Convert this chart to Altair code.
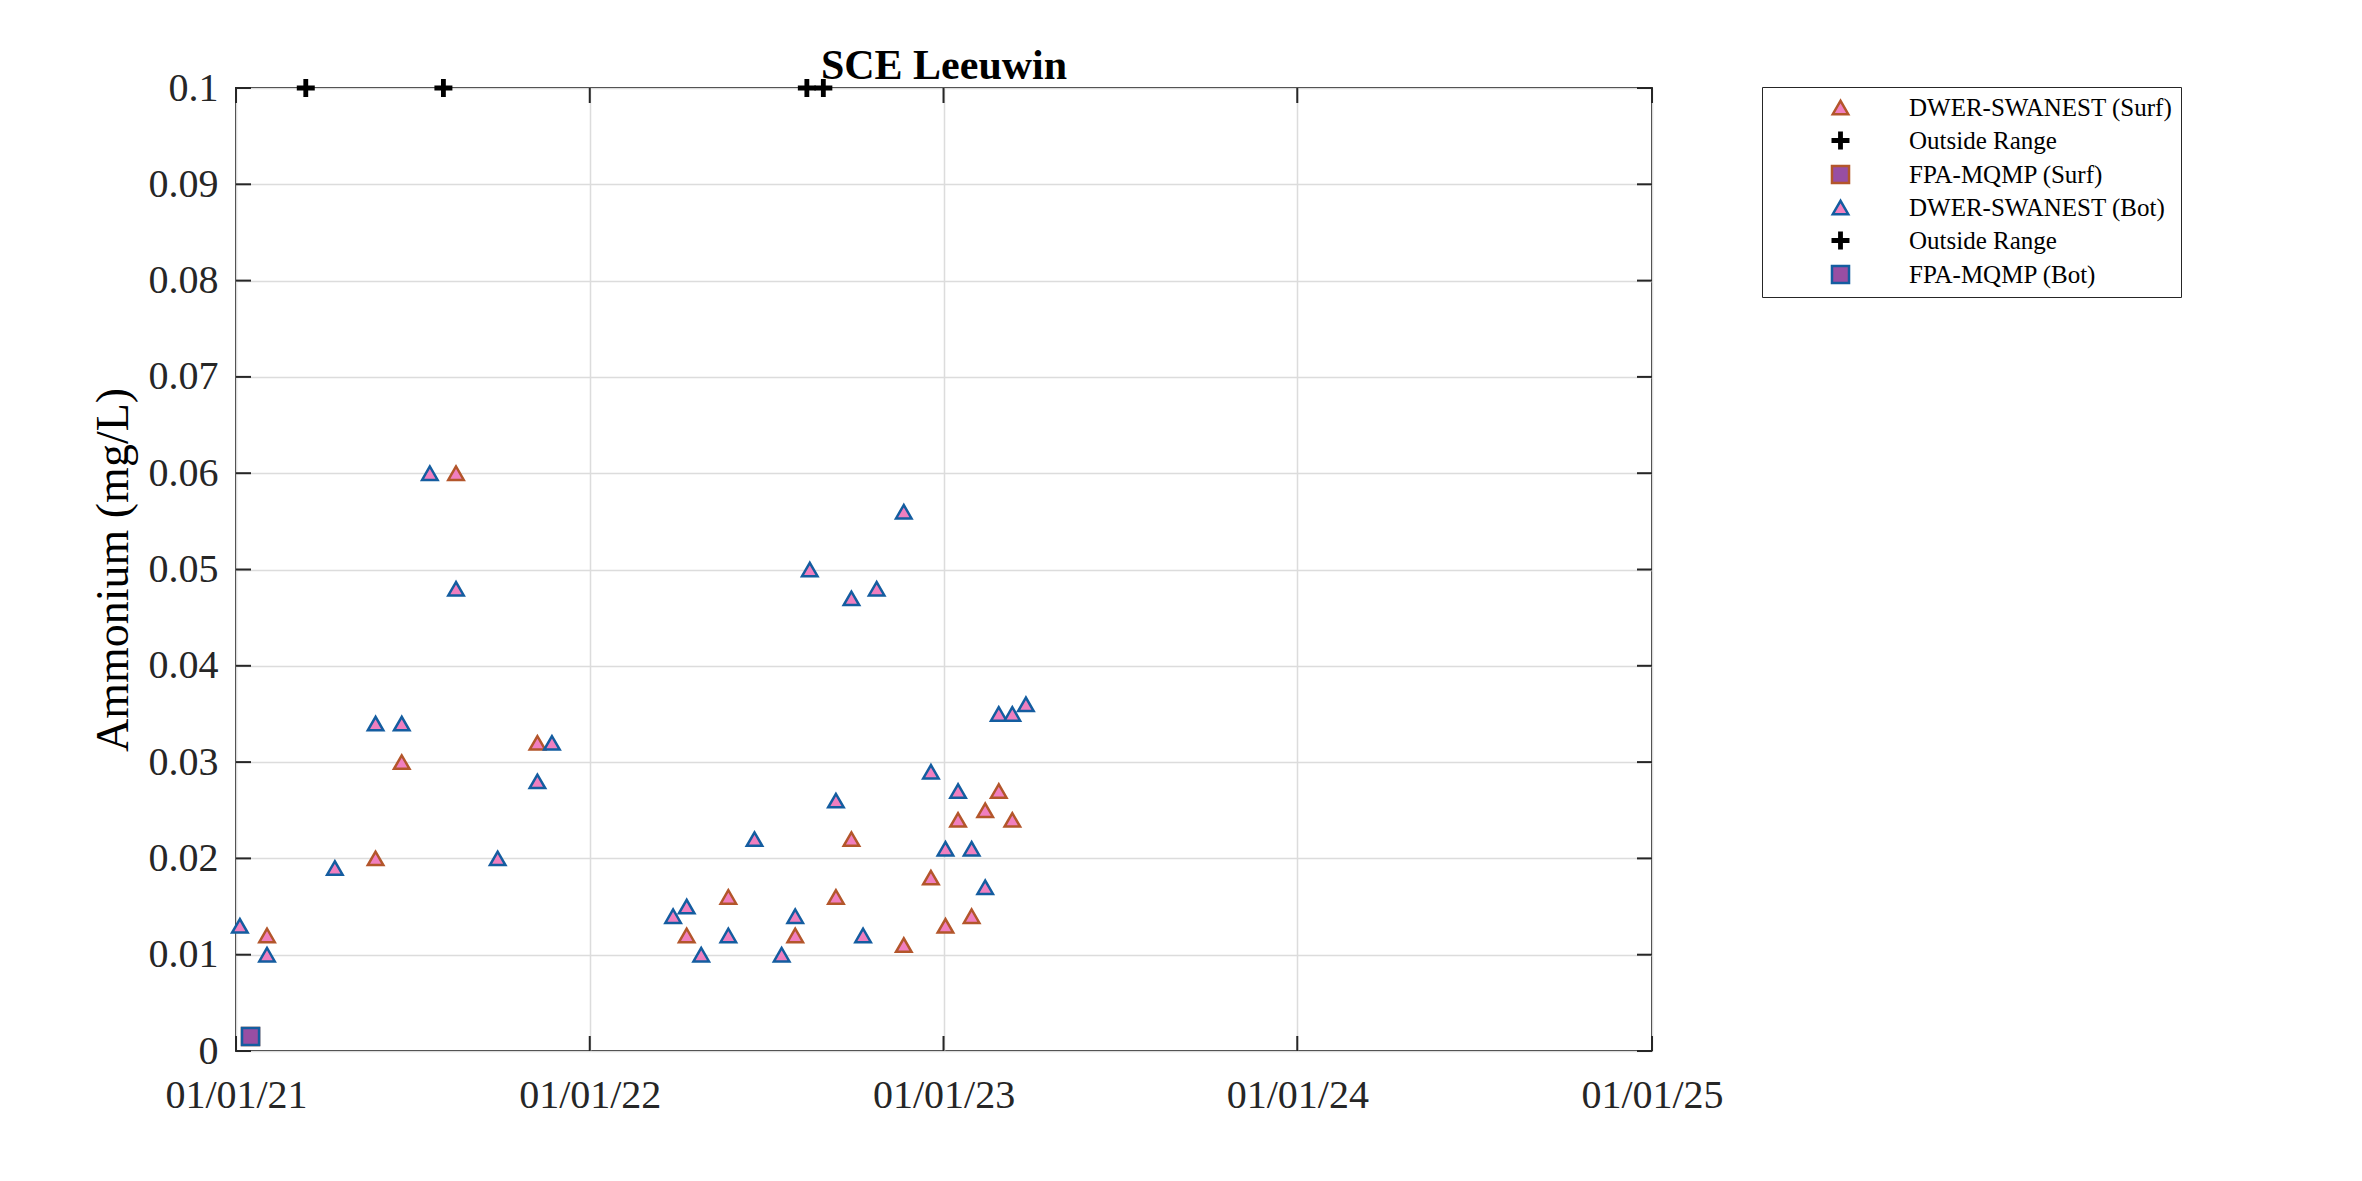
import altair as alt
import pandas as pd

# DWER-SWANEST surface samples
surf_dates = ["2021-02-02", "2021-05-25", "2021-06-21", "2021-08-16", "2021-11-08",
              "2022-04-11", "2022-05-24", "2022-08-01", "2022-09-12", "2022-09-28",
              "2022-11-21", "2022-12-19", "2023-01-03", "2023-01-16", "2023-01-30",
              "2023-02-13", "2023-02-27", "2023-03-13"]
surf_vals = [0.012, 0.020, 0.030, 0.060, 0.032,
             0.012, 0.016, 0.012, 0.016, 0.022,
             0.011, 0.018, 0.013, 0.024, 0.014,
             0.025, 0.027, 0.024]

# DWER-SWANEST bottom samples
bot_dates = ["2021-01-05", "2021-02-02", "2021-04-13", "2021-05-25", "2021-06-21",
             "2021-07-20", "2021-08-16", "2021-09-28", "2021-11-08", "2021-11-23",
             "2022-03-28", "2022-04-11", "2022-04-26", "2022-05-24", "2022-06-20",
             "2022-07-18", "2022-08-01", "2022-08-16", "2022-09-12", "2022-09-28",
             "2022-10-10", "2022-10-24", "2022-11-21", "2022-12-19", "2023-01-03",
             "2023-01-16", "2023-01-30", "2023-02-13", "2023-02-27", "2023-03-13",
             "2023-03-27"]
bot_vals = [0.013, 0.010, 0.019, 0.034, 0.034,
            0.060, 0.048, 0.020, 0.028, 0.032,
            0.014, 0.015, 0.010, 0.012, 0.022,
            0.010, 0.014, 0.050, 0.026, 0.047,
            0.012, 0.048, 0.056, 0.029, 0.021,
            0.027, 0.021, 0.017, 0.035, 0.035,
            0.036]

# values above the axis limit, drawn on the top edge
surf_out_dates = ["2021-03-14", "2022-08-13"]
bot_out_dates = ["2021-08-03", "2022-08-30"]
out_val = 0.1

# FPA-MQMP samples
fpa_dates = ["2021-01-16"]
fpa_surf_vals = [0.0015]
fpa_bot_vals = [0.0015]

y_ticks = [0, 0.01, 0.02, 0.03, 0.04, 0.05, 0.06, 0.07, 0.08, 0.09, 0.1]
x_ticks = ["2021-01-01", "2022-01-01", "2023-01-01", "2024-01-01", "2025-01-01"]

keys = ["surf_sw", "surf_out", "surf_fpa", "bot_sw", "bot_out", "bot_fpa"]
labels = ["DWER-SWANEST (Surf)", "Outside Range", "FPA-MQMP (Surf)",
          "DWER-SWANEST (Bot)", "Outside Range", "FPA-MQMP (Bot)"]

PINK = "#f07fbf"
PURPLE = "#984ea3"
BROWN = "#b3562b"
BLUE = "#145da0"
PLUS = "M-1,-0.15H-0.15V-1H0.15V-0.15H1V0.15H0.15V1H-0.15V0.15H-1Z"
SQUARE = "M-1.1,-1.1H1.1V1.1H-1.1Z"

shapes = ["triangle-up", PLUS, SQUARE, "triangle-up", PLUS, SQUARE]
fills = [PINK, "black", PURPLE, PINK, "black", PURPLE]
strokes = [BROWN, "black", BROWN, BLUE, "black", BLUE]

FONT = "Liberation Serif"
W, H = 1416, 963


def rows(dates, vals, key):
    return pd.DataFrame({"date": dates, "value": vals, "series": key})


df = pd.concat([
    rows(surf_dates, surf_vals, "surf_sw"),
    rows(surf_out_dates, [out_val] * len(surf_out_dates), "surf_out"),
    rows(fpa_dates, fpa_surf_vals, "surf_fpa"),
    rows(bot_dates, bot_vals, "bot_sw"),
    rows(bot_out_dates, [out_val] * len(bot_out_dates), "bot_out"),
    rows(fpa_dates, fpa_bot_vals, "bot_fpa"),
], ignore_index=True)

yt_df = pd.DataFrame({"value": y_ticks})
xt_df = pd.DataFrame({"date": x_ticks})

label_expr = "".join(f"datum.value == '{k}' ? '{l}' : " for k, l in zip(keys, labels)) + "''"

xscale = alt.Scale(type="utc", domain=[alt.DateTime(year=2021, month=1, date=1, utc=True),
                                       alt.DateTime(year=2025, month=1, date=1, utc=True)])
yscale = alt.Scale(domain=[0, 0.1], nice=False, zero=False)

xaxis = alt.Axis(
    title=None, format="%m/%d/%y", ticks=False, domain=False, labelFlush=False,
    values=[alt.DateTime(year=y, month=1, date=1, utc=True) for y in range(2021, 2026)],
    labelPadding=24,
)
yaxis = alt.Axis(
    title="Ammonium (mg/L)", values=y_ticks, format="~g", ticks=False, domain=False,
    labelPadding=18, titlePadding=11, labelFlush=False,
)

X = alt.X("date:T", scale=xscale, axis=xaxis)
Y = alt.Y("value:Q", scale=yscale, axis=yaxis)

leg = alt.Legend(title=None, labelExpr=label_expr)

points = (
    alt.Chart(df)
    .mark_point(filled=True, size=240, strokeWidth=2.5, opacity=1)
    .encode(
        x=X,
        y=Y,
        shape=alt.Shape("series:N", scale=alt.Scale(domain=keys, range=shapes), legend=leg),
        fill=alt.Fill("series:N", scale=alt.Scale(domain=keys, range=fills), legend=leg),
        stroke=alt.Stroke("series:N", scale=alt.Scale(domain=keys, range=strokes), legend=leg),
    )
)

# inward tick marks on all four sides (MATLAB style box)
tick_len = 15
tick_col = "#262626"
y_left = alt.Chart(yt_df).mark_rule(color=tick_col, strokeWidth=2).encode(
    y=Y, x=alt.value(0), x2=alt.value(tick_len))
y_right = alt.Chart(yt_df).mark_rule(color=tick_col, strokeWidth=2).encode(
    y=Y, x=alt.value(W - tick_len), x2=alt.value(W))
x_bottom = alt.Chart(xt_df).mark_rule(color=tick_col, strokeWidth=2).encode(
    x=X, y=alt.value(H), y2=alt.value(H - tick_len))
x_top = alt.Chart(xt_df).mark_rule(color=tick_col, strokeWidth=2).encode(
    x=X, y=alt.value(0), y2=alt.value(tick_len))

chart = (
    alt.layer(y_left, y_right, x_bottom, x_top, points)
    .properties(
        width=W,
        height=H,
        title=alt.TitleParams("SCE Leeuwin", font=FONT, fontSize=42, fontWeight="bold",
                              color="black", anchor="middle", offset=-20),
        autosize=alt.AutoSizeParams(type="none"),
        padding={"left": 228, "top": 80, "right": 700, "bottom": 120},
        background="white",
    )
    .configure_view(stroke="#262626", strokeWidth=2)
    .configure_axis(
        labelFont=FONT, labelFontSize=40, labelColor="#262626",
        titleFont=FONT, titleFontSize=46, titleColor="black", titleFontWeight="normal",
        grid=True, gridColor="#dcdcdc", gridWidth=1.5,
    )
    .configure_legend(
        orient="none", legendX=1526, legendY=-1,
        padding=8, strokeColor="#262626", fillColor="white",
        labelFont=FONT, labelFontSize=25, labelColor="black", labelLimit=400,
        symbolSize=240, symbolStrokeWidth=2.5, symbolOffset=58, labelOffset=56,
        rowPadding=6,
    )
)

chart.save("out.html", embed_options={"renderer": "svg", "actions": False})
